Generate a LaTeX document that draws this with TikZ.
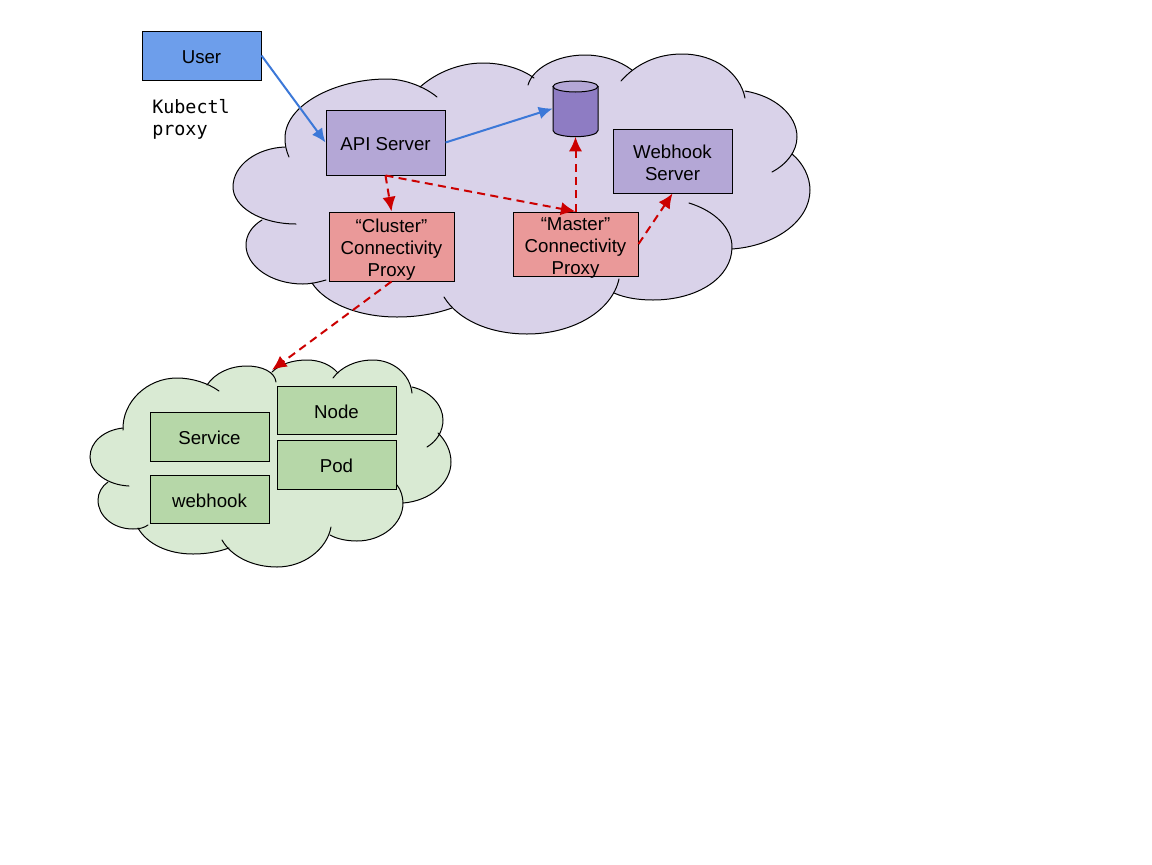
\documentclass[tikz,border=0pt]{standalone}
\usepackage{fontspec}
\setmainfont{Liberation Sans}
\newfontfamily\kubemono{DejaVu Sans Mono}
\usetikzlibrary{arrows.meta}
\definecolor{cloudP}{HTML}{D9D2E9}
\definecolor{cloudG}{HTML}{D9EAD3}
\definecolor{boxP}{HTML}{B4A7D6}
\definecolor{boxR}{HTML}{EA9999}
\definecolor{boxG}{HTML}{B6D7A8}
\definecolor{boxB}{HTML}{6D9EEB}
\definecolor{dbP}{HTML}{8E7CC3}
\definecolor{lineB}{HTML}{3C78D8}
\definecolor{lineR}{HTML}{CC0000}
\newcommand{\tx}[1]{\raisebox{-6.3pt}[0pt][0pt]{\begin{tabular}{@{}c@{}}#1\end{tabular}}}
% each cloud is a list of lobes: a first pass fills them towards the centre, a second strokes the arcs
\newcommand{\fillP}[1]{\fill[cloudP] #1 -- (520,190) -- cycle;}
\newcommand{\fillG}[1]{\fill[cloudG] #1 -- (270,460) -- cycle;}
\newcommand{\strokeL}[1]{\draw[cloudline] #1;}
\newcommand{\bigcloud}{%
\lobe{(289,157) .. controls (286,150) and (285,145) .. (285,138) .. controls (285,105) and (335,79) .. (387,79) .. controls (405,79) and (425,87) .. (437,97)}%
\lobe{(420,87) .. controls (437,72) and (460,63) .. (483,63) .. controls (503,63) and (522,69) .. (534,78)}%
\lobe{(528,85) .. controls (533,68) and (557,55) .. (585,55) .. controls (603,55) and (620,61) .. (632,70)}%
\lobe{(621,81) .. controls (636,64) and (657,54) .. (682,54) .. controls (715,54) and (740,73) .. (745,98)}%
\lobe{(745,91) .. controls (775,96) and (797,115) .. (797,137) .. controls (797,151) and (787,164) .. (772,172)}%
\lobe{(792,154) .. controls (803,163) and (810,177) .. (810,190) .. controls (810,221) and (775,246) .. (732,249)}%
\lobe{(689,203) .. controls (715,211) and (732,228) .. (732,247) .. controls (732,278) and (697,300) .. (653,300) .. controls (639,300) and (625,298) .. (614,293)}%
\lobe{(619,279) .. controls (612,311) and (573,334) .. (527,334) .. controls (490,334) and (458,320) .. (444,297)}%
\lobe{(452,308) .. controls (435,314) and (417,317) .. (397,317) .. controls (358,317) and (325,303) .. (312,283)}%
\lobe{(326,280) .. controls (319,282) and (311,284) .. (303,284) .. controls (271,284) and (246,266) .. (246,245) .. controls (246,235) and (252,226) .. (262,220)}%
\lobe{(296,224) .. controls (261,224) and (233,207) .. (233,187) .. controls (233,165) and (257,148) .. (285,147)}%
}
\newcommand{\greencloud}{%
\lobe{(129,486) .. controls (107,485) and (90,472) .. (90,457) .. controls (90,442) and (104,430) .. (123,428)}%
\lobe{(123,430) .. controls (122,402) and (147,378) .. (177,378) .. controls (192,378) and (208,383) .. (219,391)}%
\lobe{(207,385) .. controls (215,373) and (230,366) .. (247,366) .. controls (262,366) and (275,372) .. (276,382)}%
\lobe{(272,372) .. controls (280,364) and (293,360) .. (307,360) .. controls (320,360) and (331,365) .. (338,373)}%
\lobe{(333,378) .. controls (341,367) and (356,360) .. (373,360) .. controls (393,360) and (410,374) .. (412,393)}%
\lobe{(412,387) .. controls (430,391) and (443,405) .. (443,420) .. controls (443,431) and (437,441) .. (427,447)}%
\lobe{(438,433) .. controls (446,441) and (451,451) .. (451,462) .. controls (451,483) and (430,501) .. (403,503)}%
\lobe{(397,485) .. controls (401,490) and (403,497) .. (403,503) .. controls (403,524) and (382,541) .. (357,541) .. controls (347,541) and (337,539) .. (330,535)}%
\lobe{(331,527) .. controls (327,549) and (304,567) .. (277,567) .. controls (252,567) and (231,556) .. (222,540)}%
\lobe{(229,548) .. controls (218,552) and (206,554) .. (193,554) .. controls (168,554) and (147,544) .. (138,528)}%
\lobe{(148,525) .. controls (144,528) and (139,529) .. (133,529) .. controls (113,529) and (98,516) .. (98,500) .. controls (98,493) and (102,486) .. (108,482)}%
}
\tikzset{
  cloudline/.style={draw=black,line width=0.75pt,line cap=round},
  base/.style={draw=black,line width=0.75pt,rectangle,inner sep=0pt,
    font=\fontsize{14}{16.5}\selectfont,text=black},
  boxsize/.style 2 args={minimum width=#1*0.75pt,minimum height=#2*0.75pt},
  purplebox/.style={base,fill=boxP},
  redbox/.style={base,fill=boxR},
  greenbox/.style={base,fill=boxG},
  bluebox/.style={base,fill=boxB},
  flow/.style={draw=lineB,line width=1.5pt,-{Latex[length=10.5pt,width=9.5pt]}},
  tunnel/.style={draw=lineR,line width=1.5pt,dash pattern=on 6pt off 4pt,-{Latex[length=11pt,width=10pt]}},
  monotext/.style={align=left,inner sep=0pt,anchor=north west,
    font=\kubemono\fontsize{13.8}{16.5}\selectfont}
}
\begin{document}
\begin{tikzpicture}[x=0.75pt,y=-0.75pt]
\useasboundingbox (0,0) rectangle (1152,864);
\fill[white] (0,0) rectangle (1152,864);

% big cloud
\fill[cloudP] (285,147) -- (420,87) -- (533,77) -- (632,70) -- (745,91) -- (792,154) -- (732,249) -- (617,293) -- (452,308) -- (318,283) -- (262,220) -- cycle;
\let\lobe\fillP \bigcloud
\let\lobe\strokeL \bigcloud

% green cloud
\fill[cloudG] (123,428) -- (207,385) -- (272,372) -- (338,373) -- (412,387) -- (438,433) -- (403,503) -- (330,535) -- (229,548) -- (138,528) -- (108,482) -- cycle;
\let\lobe\fillG \greencloud
\let\lobe\strokeL \greencloud

% database cylinder
\filldraw[fill=dbP,draw=black,line width=0.75pt] (553,86.5) -- (553,130.5) .. controls (553,134) and (563,136.7) .. (575.5,136.7) .. controls (588,136.7) and (598,134) .. (598,130.5) -- (598,86.5) -- cycle;
\filldraw[fill=boxP,draw=black,line width=0.75pt] (553,86.5) .. controls (553,83.5) and (563,81) .. (575.5,81) .. controls (588,81) and (598,83.5) .. (598,86.5) .. controls (598,89.5) and (588,92) .. (575.5,92) .. controls (563,92) and (553,89.5) .. (553,86.5) -- cycle;
\node[rectangle,inner sep=0pt,boxsize={45}{56}] (db) at (575.5,108.5) {};

% nodes
\node[bluebox,boxsize={119}{49}] (user) at (201.5,55.5) {\tx{User}};
\node[monotext] (kubectl) at (152,99) {Kubectl\\proxy};
\node[purplebox,boxsize={119}{65}] (api) at (385.5,142.5) {\tx{API Server}};
\node[purplebox,boxsize={119}{64}] (webhookserver) at (672.5,161) {\tx{Webhook\\Server}};
\node[redbox,boxsize={125}{69}] (cluster) at (391.5,246.5) {\tx{“Cluster”\\Connectivity\\Proxy}};
\node[redbox,boxsize={125}{64}] (master) at (575.5,244) {\tx{“Master”\\Connectivity\\Proxy}};
\node[greenbox,boxsize={119}{49}] (service) at (209.5,436.5) {\tx{Service}};
\node[greenbox,boxsize={119}{48}] (webhook) at (209.5,499) {\tx{webhook}};
\node[greenbox,boxsize={119}{48}] (nodebox) at (336.5,410) {\tx{Node}};
\node[greenbox,boxsize={119}{49}] (pod) at (336.5,464.5) {\tx{Pod}};
\coordinate (greenentry) at (272,370);

% connectors
\draw[flow] (user.east) -- (api.west);
\draw[flow] (api.east) -- (db.west);
\draw[tunnel] (api.south) -- (cluster.north);
\draw[tunnel] (api.south) -- (master.north);
\draw[tunnel] (master.north) -- (db.south);
\draw[tunnel] (master.east) -- (webhookserver.south);
\draw[tunnel] (cluster.south) -- (greenentry);
\end{tikzpicture}
\end{document}
